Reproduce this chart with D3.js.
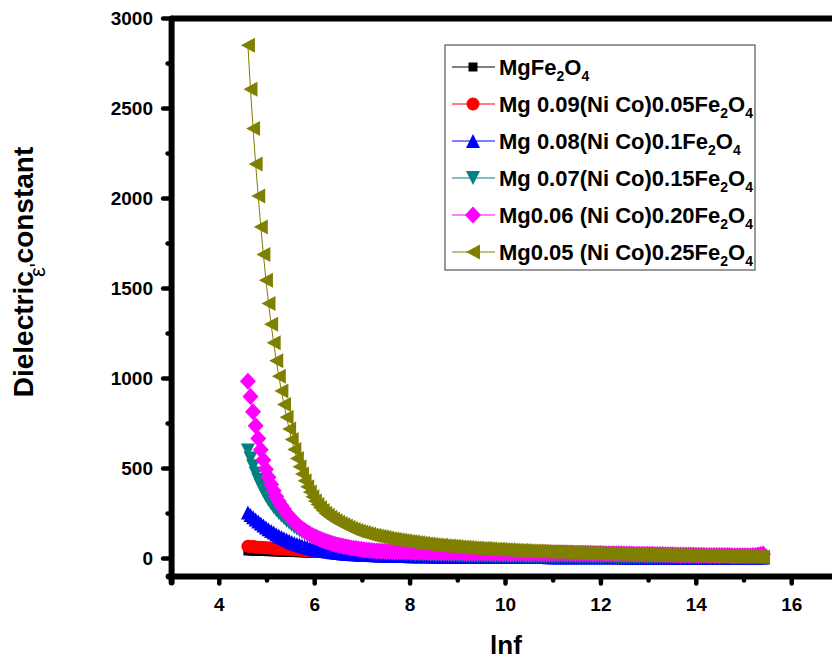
<!DOCTYPE html>
<html>
<head>
<meta charset="utf-8">
<script src="https://cdn.jsdelivr.net/npm/d3@7"></script>
<style>
  html, body { margin: 0; padding: 0; background: #fff; }
  svg { display: block; }
  text { font-family: Arial, "Liberation Sans", Helvetica, sans-serif; }
</style>
</head>
<body>
<svg id="chart" width="832" height="660"></svg>
<script>
// ln(f) of each measured frequency point (100 Hz ... 5 MHz sweep)
const lnf = [
  4.6,4.654,4.708,4.762,4.816,4.87,4.924,4.978,5.032,5.086,
  5.14,5.194,5.248,5.302,5.356,5.41,5.464,5.518,5.572,5.626,
  5.68,5.734,5.788,5.842,5.896,5.95,6.004,6.058,6.112,6.166,
  6.22,6.274,6.328,6.382,6.436,6.49,6.544,6.598,6.652,6.706,
  6.76,6.814,6.868,6.922,6.976,7.03,7.084,7.138,7.192,7.246,
  7.3,7.354,7.408,7.462,7.516,7.57,7.624,7.678,7.732,7.786,
  7.84,7.894,7.948,8.002,8.056,8.11,8.164,8.218,8.272,8.326,
  8.38,8.434,8.488,8.542,8.596,8.65,8.704,8.758,8.812,8.866,
  8.92,8.974,9.028,9.082,9.136,9.19,9.244,9.298,9.352,9.406,
  9.46,9.514,9.568,9.622,9.676,9.73,9.784,9.838,9.892,9.946,
  10,10.054,10.108,10.162,10.216,10.27,10.324,10.378,10.432,10.486,
  10.54,10.594,10.648,10.702,10.756,10.81,10.864,10.918,10.972,11.026,
  11.08,11.134,11.188,11.242,11.296,11.35,11.404,11.458,11.512,11.566,
  11.62,11.674,11.728,11.782,11.836,11.89,11.944,11.998,12.052,12.106,
  12.16,12.214,12.268,12.322,12.376,12.43,12.484,12.538,12.592,12.646,
  12.7,12.754,12.808,12.862,12.916,12.97,13.024,13.078,13.132,13.186,
  13.24,13.294,13.348,13.402,13.456,13.51,13.564,13.618,13.672,13.726,
  13.78,13.834,13.888,13.942,13.996,14.05,14.104,14.158,14.212,14.266,
  14.32,14.374,14.428,14.482,14.536,14.59,14.644,14.698,14.752,14.806,
  14.86,14.914,14.968,15.022,15.076,15.13,15.184,15.238,15.292,15.346,
  15.4
];

// Dielectric constant ε' of each composition
const epsMgFe2O4 = [
  42,42,41,41,40,40,39,39,38,38, 37,37,36,36,35,35,34,34,33,33,
  32,32,31,31,30,30,30,29,29,28, 28,28,27,27,26,26,26,25,25,25,
  24,24,24,23,23,23,22,22,22,22, 21,21,21,20,20,20,20,19,19,19,
  19,18,18,18,18,18,17,17,17,17, 17,16,16,16,16,16,16,15,15,15,
  15,15,15,15,14,14,14,14,14,14, 14,14,13,13,13,13,13,13,13,13,
  13,12,12,12,12,12,12,12,12,12, 12,12,12,12,12,11,11,11,11,11,
  11,11,11,11,11,11,11,11,11,11, 11,11,11,11,10,10,10,10,10,10,
  10,10,10,10,10,10,10,10,10,10, 10,10,10,10,10,10,10,10,10,10,
  10,10,10,10,9,9,9,9,9,9, 9,9,9,9,9,9,9,9,9,9,
  9,9,9,9,9,9,9,9,9,9, 9,9,9,9,9,9,9,9,9,9,
  9
];
const epsNiCo005 = [
  68,67,66,64,63,62,61,60,59,58, 57,56,55,54,53,52,51,50,49,48,
  47,46,45,44,43,42,41,40,40,39, 38,37,36,36,35,34,34,33,32,32,
  31,31,30,30,29,29,28,28,27,27, 26,26,26,25,25,24,24,24,23,23,
  23,22,22,22,21,21,21,21,20,20, 20,20,19,19,19,19,18,18,18,18,
  18,17,17,17,17,17,16,16,16,16, 16,16,15,15,15,15,15,15,15,14,
  14,14,14,14,14,14,14,13,13,13, 13,13,13,13,13,13,13,12,12,12,
  12,12,12,12,12,12,12,12,12,12, 12,12,12,12,12,11,11,11,11,11,
  11,11,11,11,11,11,11,11,11,11, 11,11,11,11,10,10,10,10,10,10,
  10,10,10,10,10,10,10,10,10,10, 10,10,10,10,10,10,10,10,10,10,
  10,10,10,10,10,10,10,10,10,10, 10,10,10,10,10,10,10,10,10,10,
  10
];
const epsNiCo010 = [
  255,242,229,217,205,194,183,172,162,153, 144,135,127,119,112,105,98,92,86,81,
  76,71,67,63,59,55,52,49,46,43, 41,39,37,35,33,31,30,28,27,26,
  25,24,23,22,21,21,20,19,19,18, 18,17,17,16,16,16,15,15,15,14,
  14,14,14,13,13,13,13,12,12,12, 12,12,11,11,11,11,11,11,10,10,
  10,10,10,10,10,10,9,9,9,9, 9,9,9,9,9,9,9,9,9,8,
  8,8,8,8,8,8,8,8,8,8, 8,8,8,8,8,8,8,7,7,7,
  7,7,7,7,7,7,7,7,7,7, 7,7,7,7,7,7,7,7,7,7,
  7,7,7,7,7,7,6,6,6,6, 6,6,6,6,6,6,6,6,6,6,
  6,6,6,6,6,6,6,6,6,6, 6,6,6,6,6,6,6,6,6,6,
  6,6,6,6,6,6,6,6,6,6, 6,6,6,6,6,6,6,6,6,6,
  6
];
const epsNiCo015 = [
  600,555,512,472,436,404,375,349,325,304, 285,268,252,237,223,210,198,186,175,165,
  156,147,139,131,124,117,111,105,99,94, 89,84,80,76,72,68,65,62,59,56,
  53,51,49,47,45,43,41,39,38,36, 35,34,32,31,30,29,28,27,26,26,
  25,24,23,23,22,21,21,20,20,19, 19,18,18,17,17,17,16,16,16,15,
  15,15,14,14,14,14,13,13,13,13, 12,12,12,12,12,11,11,11,11,11,
  11,10,10,10,10,10,10,10,9,9, 9,9,9,9,9,9,9,8,8,8,
  8,8,8,8,8,8,8,8,7,7, 7,7,7,7,7,7,7,7,7,7,
  7,7,7,6,6,6,6,6,6,6, 6,6,6,6,6,6,6,6,6,6,
  6,6,5,5,5,5,5,5,5,5, 5,5,5,5,5,5,5,5,5,5,
  5,5,5,5,5,5,5,4,4,4, 4,4,4,4,4,4,4,4,4,4,
  4
];
const epsNiCo020 = [
  985,900,815,737,667,604,547,496,451,411, 376,345,318,294,273,253,235,219,204,190,
  177,165,155,145,136,128,121,114,107,101, 96,91,86,82,78,74,71,68,65,62,
  59,57,55,53,51,49,47,46,44,43, 42,41,40,40,39,39,38,38,38,37,
  37,37,37,36,36,36,36,36,35,35, 35,35,35,34,34,34,34,34,33,33,
  33,33,33,33,32,32,32,32,32,32, 32,32,32,32,32,32,32,32,31,31,
  31,31,31,31,31,31,31,31,31,31, 31,31,31,31,31,31,31,31,31,31,
  30,30,30,30,30,30,30,29,29,29, 29,29,29,29,28,28,28,28,28,27,
  27,27,27,26,26,26,25,25,25,25, 24,24,24,24,23,23,23,23,22,22,
  22,22,21,21,21,21,20,20,20,20, 19,19,19,19,18,18,18,18,17,17,
  17,17,17,16,16,16,16,16,15,15, 15,15,15,15,15,15,16,17,19,22,
  25
];
const epsNiCo025 = [
  2852,2607,2389,2191,2014,1842,1689,1546,1417,1302, 1198,1098,1013,931,855,785,720,661,606,556,
  510,469,432,399,369,343,320,300,282,266, 252,240,229,219,210,202,195,187,180,173,
  167,161,156,151,147,143,139,135,131,128, 125,122,119,116,113,110,108,105,103,101,
  99,97,95,93,91,89,87,85,83,81, 80,78,77,75,74,73,71,70,69,68,
  66,65,64,63,62,61,60,59,58,57, 56,55,55,54,53,52,51,51,50,49,
  48,48,47,46,46,45,44,44,43,42, 42,41,41,40,40,39,38,38,37,37,
  36,36,35,35,34,34,33,33,32,32, 31,31,31,30,30,29,29,28,28,28,
  27,27,26,26,26,25,25,25,24,24, 24,23,23,23,22,22,22,21,21,21,
  20,20,20,19,19,19,18,18,18,18, 17,17,17,16,16,16,16,15,15,15,
  15,14,14,14,14,13,13,13,13,12, 12,12,12,11,11,11,10,10,9,9,
  8
];

// Legend labels: [text, isSubscript] runs
const legendLabels = [
  [["MgFe", 0], ["2", 1], ["O", 0], ["4", 1]],
  [["Mg 0.09(Ni Co)0.05Fe", 0], ["2", 1], ["O", 0], ["4", 1]],
  [["Mg 0.08(Ni Co)0.1Fe", 0], ["2", 1], ["O", 0], ["4", 1]],
  [["Mg 0.07(Ni Co)0.15Fe", 0], ["2", 1], ["O", 0], ["4", 1]],
  [["Mg0.06 (Ni Co)0.20Fe", 0], ["2", 1], ["O", 0], ["4", 1]],
  [["Mg0.05 (Ni Co)0.25Fe", 0], ["2", 1], ["O", 0], ["4", 1]]
];

const xMajorTicks = [4, 6, 8, 10, 12, 14, 16];
const xMinorTicks = [5, 7, 9, 11, 13, 15];
const yMajorTicks = [0, 500, 1000, 1500, 2000, 2500, 3000];
const yMinorTicks = [250, 750, 1250, 1750, 2250, 2750];

const xTitle = "lnf";
const yTitle = "Dielectric constant";
const yUnit = "ε'";

// ---- drawing ----
const seriesValues = [epsMgFe2O4, epsNiCo005, epsNiCo010, epsNiCo015, epsNiCo020, epsNiCo025];
const colors = ["#000000", "#ff0000", "#0000ff", "#008080", "#ff00ff", "#808000"];
const markerPaths = [
  "M-4.5,-4.5H4.5V4.5H-4.5Z",                                   // square
  "M-6.5,0A6.5,6.5 0 1,0 6.5,0A6.5,6.5 0 1,0 -6.5,0Z",         // circle
  "M0,-7L7,7L-7,7Z",                                           // triangle up
  "M0,7L7,-7L-7,-7Z",                                          // triangle down
  "M0,-8.5L8,0L0,8.5L-8,0Z",                                   // diamond
  "M-7,0L7,-7.5L7,7.5Z"                                        // triangle left
];

const svg = d3.select("#chart");
const x = d3.scaleLinear().domain([3, 17]).range([171.6, 839.4]);
const y = d3.scaleLinear().domain([-100, 3000]).range([576.5, 18.5]);

// data: line then markers, drawn in legend order so the last sits on top
const plot = svg.append("g");
seriesValues.forEach((vals, si) => {
  const pts = vals.map((v, i) => [lnf[i], v]);
  const g = plot.append("g");
  g.append("path")
    .datum(pts)
    .attr("fill", "none")
    .attr("stroke", colors[si])
    .attr("stroke-width", 1)
    .attr("d", d3.line().x(d => x(d[0])).y(d => y(d[1])));
  g.selectAll("path.m")
    .data(pts)
    .join("path")
    .attr("class", "m")
    .attr("d", markerPaths[si])
    .attr("fill", colors[si])
    .attr("transform", d => `translate(${x(d[0])},${y(d[1])})`);
});

// axes frame
const x0 = x(3);
const axisG = svg.append("g").attr("stroke", "#000").attr("stroke-linecap", "round");
axisG.append("line").attr("x1", x0).attr("x2", x0).attr("y1", y(3000)).attr("y2", y(-100) + 6).attr("stroke-width", 6);
axisG.append("line").attr("x1", x0 - 3).attr("x2", 845).attr("y1", y(-100)).attr("y2", y(-100)).attr("stroke-width", 6);
axisG.append("line").attr("x1", x0).attr("x2", 845).attr("y1", y(3000)).attr("y2", y(3000)).attr("stroke-width", 6).attr("stroke-linecap", "butt");

// y ticks
axisG.selectAll("line.ymaj").data(yMajorTicks).join("line")
  .attr("x1", x0).attr("x2", x0 - 8.5)
  .attr("y1", d => y(d)).attr("y2", d => y(d)).attr("stroke-width", 4.5);
axisG.selectAll("line.ymin").data(yMinorTicks).join("line")
  .attr("x1", x0).attr("x2", x0 - 4)
  .attr("y1", d => y(d)).attr("y2", d => y(d)).attr("stroke-width", 4.5);
// x ticks
axisG.selectAll("line.xmaj").data(xMajorTicks).join("line")
  .attr("x1", d => x(d)).attr("x2", d => x(d))
  .attr("y1", y(-100)).attr("y2", y(-100) + 7).attr("stroke-width", 4.5);
axisG.selectAll("line.xmin").data(xMinorTicks).join("line")
  .attr("x1", d => x(d)).attr("x2", d => x(d))
  .attr("y1", y(-100)).attr("y2", y(-100) + 4).attr("stroke-width", 4.5);

// tick labels
svg.append("g").selectAll("text").data(yMajorTicks).join("text")
  .attr("x", 153).attr("y", d => y(d)).attr("dy", "0.36em")
  .attr("text-anchor", "end").attr("font-size", 19).attr("font-weight", "bold")
  .text(d => d);
svg.append("g").selectAll("text").data(xMajorTicks).join("text")
  .attr("x", d => x(d)).attr("y", 611)
  .attr("text-anchor", "middle").attr("font-size", 19).attr("font-weight", "bold")
  .text(d => d);

// axis titles
svg.append("text").attr("x", 506).attr("y", 654).attr("text-anchor", "middle")
  .attr("font-size", 26).attr("font-weight", "bold").text(xTitle);
svg.append("text").attr("transform", "translate(33,272) rotate(-90)")
  .attr("text-anchor", "middle").attr("font-size", 28).attr("font-weight", "bold").text(yTitle);
svg.append("text").attr("transform", "translate(45,270) rotate(-90)")
  .attr("text-anchor", "middle").attr("font-size", 22).text(yUnit);

// legend
const lg = svg.append("g");
lg.append("rect").attr("x", 445).attr("y", 45).attr("width", 310).attr("height", 225)
  .attr("fill", "#fff").attr("stroke", "#555").attr("stroke-width", 1.2);
legendLabels.forEach((parts, si) => {
  const cy = 67 + si * 37;
  lg.append("line").attr("x1", 452).attr("x2", 495).attr("y1", cy).attr("y2", cy)
    .attr("stroke", colors[si]).attr("stroke-width", 1);
  lg.append("path").attr("d", markerPaths[si]).attr("fill", colors[si])
    .attr("transform", `translate(473,${cy})`);
  const t = lg.append("text").attr("x", 499).attr("y", cy + 7.5)
    .attr("font-size", 22).attr("font-weight", "bold");
  let lowered = false;
  parts.forEach(([s, sub]) => {
    const ts = t.append("tspan").text(s);
    if (sub) {
      ts.attr("font-size", 14);
      if (!lowered) { ts.attr("dy", 6); lowered = true; }
    } else if (lowered) {
      ts.attr("dy", -6); lowered = false;
    }
  });
});
</script>
</body>
</html>
